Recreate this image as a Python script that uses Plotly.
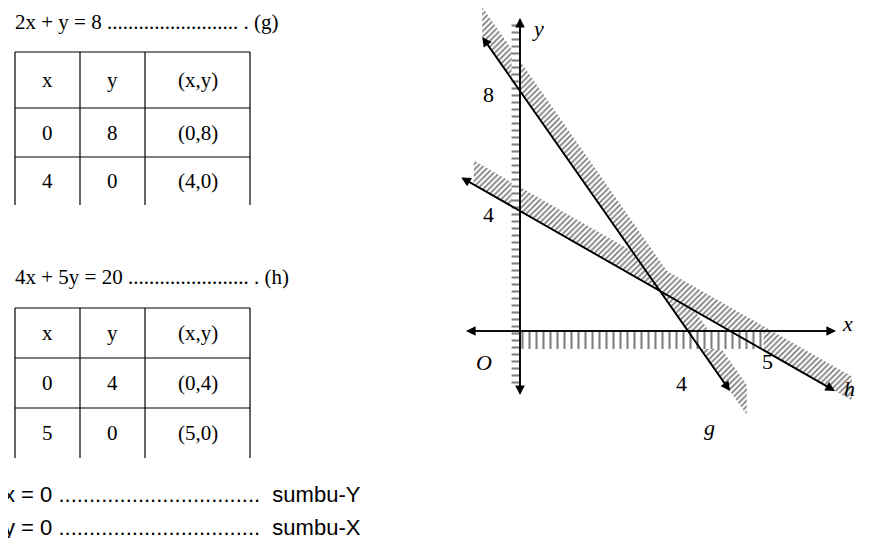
import plotly.graph_objects as go

M = 8  # page body margin
W, H = 872 - 2 * M, 546 - 2 * M
OX, OY, SX, SY = 520 - M, 331 - M, 42, 30

# data
g_x = [-0.9, 5.0]          # 2x + y = 8
h_x = [-1.4, 7.5]          # 4x + 5y = 20
t1 = [["x", "y", "(x,y)"], ["0", "8", "(0,8)"], ["4", "0", "(4,0)"]]
t2 = [["x", "y", "(x,y)"], ["0", "4", "(0,4)"], ["5", "0", "(5,0)"]]
xticks = [4, 5]
yticks = [4, 8]

g = lambda x: 8 - 2 * x
h = lambda x: (20 - 4 * x) / 5

fig = go.Figure()
pat = lambda s, sz, so=0.45: dict(shape=s, size=sz, solidity=so, fgcolor="black", bgcolor="white")

gb = [-0.9, 5.4]
fig.add_trace(go.Scatter(x=[gb[0], gb[1], gb[1], gb[0]],
                         y=[g(gb[0]), g(gb[1]), g(gb[1]) + 1.0, g(gb[0]) + 1.0],
                         fill="toself", mode="lines", line=dict(width=0), fillpattern=pat("/", 4)))
hb = [-1.1, 7.9]
fig.add_trace(go.Scatter(x=[hb[0], hb[1], hb[1], hb[0]],
                         y=[h(hb[0]), h(hb[1]), h(hb[1]) + 0.8, h(hb[0]) + 0.8],
                         fill="toself", mode="lines", line=dict(width=0), fillpattern=pat("/", 4)))
fig.add_trace(go.Scatter(x=[-0.2, 0, 0, -0.2], y=[-1.9, -1.9, 10.3, 10.3], fill="toself",
                         mode="lines", line=dict(width=0), fillpattern=pat("-", 7, 0.3)))
fig.add_trace(go.Scatter(x=[0, 5.8, 5.8, 0], y=[0, 0, -0.6, -0.6], fill="toself",
                         mode="lines", line=dict(width=0), fillpattern=pat("|", 7, 0.3)))

anns = []
def arrow(x0, y0, x1, y1):
    anns.append(dict(x=x1, y=y1, ax=x0, ay=y0, xref="x", yref="y", axref="x", ayref="y",
                     text="", showarrow=True, arrowhead=2, arrowsize=1.2, arrowwidth=1.6,
                     arrowcolor="black"))

xa = [(466 - 520) / SX, (836 - 520) / SX]
ya = [(331 - 395) / SY, (331 - 18) / SY]
for (a, b) in [((xa[0], 0), (xa[1], 0)), ((xa[1], 0), (xa[0], 0)),
               ((0, ya[0]), (0, ya[1])), ((0, ya[1]), (0, ya[0]))]:
    arrow(a[0], a[1], b[0], b[1])
for xs, f in [(g_x, g), (h_x, h)]:
    arrow(xs[1], f(xs[1]), xs[0], f(xs[0]))
    arrow(xs[0], f(xs[0]), xs[1], f(xs[1]))

serif = "Liberation Serif"
def dtext(x, y, t, italic=False):
    anns.append(dict(x=x, y=y, xref="x", yref="y", text=(f"<i>{t}</i>" if italic else t),
                     showarrow=False, font=dict(family=serif, size=22, color="black")))
dtext(0.42, 10.1, "y", True)
dtext(7.8, 0.25, "x", True)
dtext(-0.85, -1.05, "O", True)
dtext(7.85, -1.9, "h", True)
dtext(4.5, -3.2, "g", True)
for v in yticks:
    dtext(-0.75, v - 0.1, str(v))
dtext(xticks[0] - 0.15, -1.75, str(xticks[0]))
dtext(xticks[1] + 0.9, -1.0, str(xticks[1]))

def ptext(x, y, t, fam=serif, size=21, anchor="left"):
    anns.append(dict(x=(x - M) / W, y=1 - (y - M) / H, xref="paper", yref="paper", text=t,
                     showarrow=False, xanchor=anchor, yanchor="middle",
                     font=dict(family=fam, size=size, color="black")))
shapes = []
def pline(x0, y0, x1, y1):
    shapes.append(dict(type="line", xref="paper", yref="paper", x0=(x0 - M) / W, x1=(x1 - M) / W,
                       y0=1 - (y0 - M) / H, y1=1 - (y1 - M) / H, line=dict(color="black", width=1.2)))

ptext(13, 22, "2x + y = 8 ......................... . (g)")
ptext(13, 277, "4x + 5y = 20 ....................... . (h)")
cols = [15, 80, 145, 250]
for rows, tbl in [([52, 108, 157, 205], t1), ([308, 358, 408, 458], t2)]:
    for r in rows[:3]:
        pline(cols[0], r, cols[3], r)
    for c in cols:
        pline(c, rows[0], c, rows[3])
    for i, row in enumerate(tbl):
        yc = (rows[i] + rows[i + 1]) / 2
        for j, t in enumerate(row):
            ptext((cols[j] + cols[j + 1]) / 2, yc, t, anchor="center")

ptext(2, 494, "x = 0 .................................  sumbu-Y", fam="Liberation Sans", size=22)
ptext(2, 527, "y = 0 .................................  sumbu-X", fam="Liberation Sans", size=22)

fig.update_layout(width=W, height=H, margin=dict(l=0, r=0, t=0, b=0), showlegend=False,
                  plot_bgcolor="white", paper_bgcolor="white", annotations=anns, shapes=shapes,
                  xaxis=dict(range=[-OX / SX, (W - OX) / SX], visible=False, fixedrange=True),
                  yaxis=dict(range=[(OY - H) / SY, OY / SY], visible=False, fixedrange=True))
fig.write_html("out.html")
